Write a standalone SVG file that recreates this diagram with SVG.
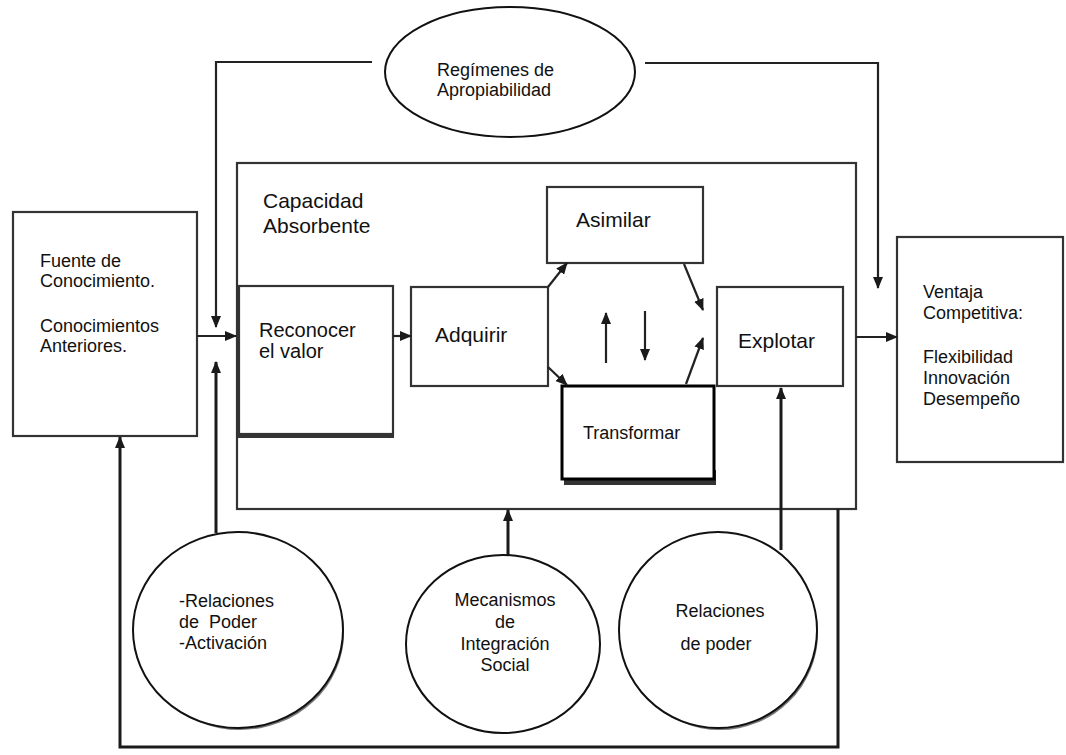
<svg xmlns="http://www.w3.org/2000/svg" width="1066" height="755" viewBox="0 0 1066 755">
<defs>
<marker id="arr" markerUnits="userSpaceOnUse" markerWidth="12" markerHeight="10" refX="11" refY="5" orient="auto">
<path d="M0,0 L12,5 L0,10 z" fill="#1a1a1a"/>
</marker>
<style>
.t{font-family:"Liberation Sans",Arial,sans-serif;font-size:18px;fill:#111}
.big{font-size:21px}
.box{fill:#fff;stroke:#333;stroke-width:2.2}
.ell{fill:#fff;stroke:#111;stroke-width:2}
.sh{fill:#777;stroke:none}
.ln{fill:none;stroke:#222;stroke-width:2.2}
.lnb{fill:none;stroke:#1a1a1a;stroke-width:3}
</style>
</defs>
<rect width="1066" height="755" fill="#fff"/>

<g id="capacidad">
<rect class="box" x="237" y="163" width="619" height="346"/>
<text class="t big" x="263" y="208">Capacidad</text>
<text class="t big" x="263" y="233">Absorbente</text>
</g>

<g id="regimenes">
<ellipse class="ell" cx="510" cy="72" rx="125" ry="65"/>
<text class="t" x="437" y="76">Regímenes de</text>
<text class="t" x="437" y="96">Apropiabilidad</text>
</g>

<g id="fuente">
<rect class="box" x="13" y="212" width="184" height="224"/>
<text class="t" x="40" y="267">Fuente de</text>
<text class="t" x="40" y="287">Conocimiento.</text>
<text class="t" x="40" y="332">Conocimientos</text>
<text class="t" x="40" y="352">Anteriores.</text>
</g>

<g id="reconocer">
<rect x="236" y="288" width="158" height="150" fill="#333"/>
<rect class="box" x="239" y="286" width="154" height="148"/>
<text class="t" x="259" y="337" style="font-size:20px">Reconocer</text>
<text class="t" x="259" y="358" style="font-size:20px">el valor</text>
</g>

<g id="adquirir">
<rect class="box" x="411" y="287" width="137" height="99"/>
<text class="t big" x="435" y="342">Adquirir</text>
</g>

<g id="asimilar">
<rect class="box" x="547" y="187" width="156" height="76"/>
<text class="t big" x="576" y="227">Asimilar</text>
</g>

<g id="transformar">
<rect x="564" y="470" width="152" height="15" fill="#333"/>
<rect x="562" y="386" width="152" height="93" fill="#fff" stroke="#000" stroke-width="3"/>
<text class="t" x="583" y="439">Transformar</text>
</g>

<g id="explotar">
<rect class="box" x="717" y="287" width="126" height="99"/>
<text class="t big" x="738" y="348">Explotar</text>
</g>

<g id="ventaja">
<rect class="box" x="897" y="237" width="166" height="225"/>
<text class="t" x="923" y="298">Ventaja</text>
<text class="t" x="923" y="319">Competitiva:</text>
<text class="t" x="923" y="363">Flexibilidad</text>
<text class="t" x="923" y="384">Innovación</text>
<text class="t" x="923" y="405">Desempeño</text>
</g>

<g id="connectors">
<path class="ln" d="M372,62 L216,62 L216,327" marker-end="url(#arr)"/>
<path class="ln" d="M645,63 L878,63 L878,288" marker-end="url(#arr)"/>
<path class="ln" d="M197,336 L236,336" marker-end="url(#arr)"/>
<path class="ln" d="M393,336 L411,336" marker-end="url(#arr)"/>
<path class="ln" d="M548,287 L567,263" marker-end="url(#arr)"/>
<path class="ln" d="M548,367 L567,385" marker-end="url(#arr)"/>
<path class="ln" d="M684,264 L703,310" marker-end="url(#arr)"/>
<path class="ln" d="M686,384 L703,338" marker-end="url(#arr)"/>
<path class="ln" d="M606,363 L606,313" marker-end="url(#arr)"/>
<path class="ln" d="M645,311 L645,360" marker-end="url(#arr)"/>
<path class="ln" d="M856,337 L897,337" marker-end="url(#arr)"/>
<path class="lnb" d="M216,533 L216,362" marker-end="url(#arr)"/>
<path class="lnb" d="M508,555 L508,510" marker-end="url(#arr)"/>
<path class="lnb" d="M781,550 L781,388" marker-end="url(#arr)"/>
<path class="lnb" d="M838,509 L838,747 L120,747 L120,437" marker-end="url(#arr)"/>
</g>

<g id="relaciones-activacion">
<ellipse class="sh" cx="240" cy="633" rx="104" ry="97"/>
<ellipse class="ell" cx="238" cy="630" rx="105" ry="98"/>
<text class="t" x="179" y="607">-Relaciones</text>
<text class="t" x="179" y="628" xml:space="preserve">de  Poder</text>
<text class="t" x="179" y="649">-Activación</text>
</g>

<g id="mecanismos">
<ellipse class="ell" cx="503" cy="644" rx="97" ry="89"/>
<text class="t" x="505" y="606" text-anchor="middle">Mecanismos</text>
<text class="t" x="505" y="628" text-anchor="middle">de</text>
<text class="t" x="505" y="650" text-anchor="middle">Integración</text>
<text class="t" x="505" y="671" text-anchor="middle">Social</text>
</g>

<g id="relaciones-poder">
<ellipse class="sh" cx="720" cy="633" rx="98" ry="97"/>
<ellipse class="ell" cx="718" cy="630" rx="99" ry="98"/>
<text class="t" x="720" y="617" text-anchor="middle">Relaciones</text>
<text class="t" x="716" y="650" text-anchor="middle">de poder</text>
</g>
</svg>
